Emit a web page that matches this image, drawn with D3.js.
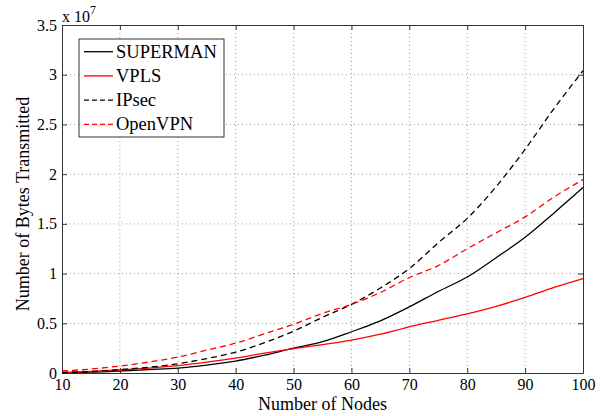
<!DOCTYPE html>
<html>
<head>
<meta charset="utf-8">
<script src="https://cdn.jsdelivr.net/npm/d3@7"></script>
<style>
  html, body { margin: 0; padding: 0; background: #fff; }
  svg { display: block; font-family: "Liberation Serif", "Times New Roman", serif; }
</style>
</head>
<body>
<svg id="chart" width="606" height="416"></svg>
<script>
// Data (values in units of 1e7 bytes)
const nodes     = [10, 15, 20, 25, 30, 35, 40, 45, 50, 55, 60, 65, 70, 75, 80, 85, 90, 95, 100];
const superman  = [0.003, 0.008, 0.02, 0.035, 0.05, 0.08, 0.12, 0.18, 0.25, 0.315, 0.415, 0.525, 0.665, 0.82, 0.965, 1.16, 1.365, 1.61, 1.865];
const vpls      = [0.005, 0.015, 0.03, 0.05, 0.075, 0.11, 0.15, 0.2, 0.245, 0.285, 0.33, 0.39, 0.465, 0.53, 0.595, 0.67, 0.76, 0.86, 0.95];
const ipsec     = [0.005, 0.015, 0.035, 0.058, 0.093, 0.145, 0.21, 0.305, 0.42, 0.56, 0.69, 0.855, 1.05, 1.31, 1.555, 1.875, 2.25, 2.66, 3.04];
const openvpn   = [0.02, 0.04, 0.07, 0.11, 0.16, 0.23, 0.3, 0.395, 0.49, 0.6, 0.69, 0.81, 0.96, 1.08, 1.25, 1.41, 1.57, 1.77, 1.945];

const xTicks = [10, 20, 30, 40, 50, 60, 70, 80, 90, 100];
const yTicks = [0, 0.5, 1, 1.5, 2, 2.5, 3, 3.5];
const yTickLabels = ["0", "0.5", "1", "1.5", "2", "2.5", "3", "3.5"];

const seriesNames  = ["SUPERMAN", "VPLS", "IPsec", "OpenVPN"];
const seriesValues = [superman, vpls, ipsec, openvpn];
const seriesColors = ["#000000", "#ff0000", "#000000", "#ff0000"];
const seriesDashed = [false, false, true, true];

const svg = d3.select("#chart");
const L = 62, R = 583, T = 25, B = 373;

const x = d3.scaleLinear().domain([10, 100]).range([L, R]);
const y = d3.scaleLinear().domain([0, 3.5]).range([B, T]);

// grid
const grid = svg.append("g");
xTicks.forEach(t => {
  if (t === 10 || t === 100) return;
  grid.append("line").attr("x1", x(t)).attr("x2", x(t)).attr("y1", T).attr("y2", B)
    .attr("stroke", "#888").attr("stroke-width", 0.8).attr("stroke-dasharray", "1,3");
});
yTicks.forEach(t => {
  if (t === 0 || t === 3.5) return;
  grid.append("line").attr("x1", L).attr("x2", R).attr("y1", y(t)).attr("y2", y(t))
    .attr("stroke", "#888").attr("stroke-width", 0.8).attr("stroke-dasharray", "1,3");
});

// axes (MATLAB box style, inward ticks)
const xAxisB = d3.axisBottom(x).tickValues(xTicks).tickSizeInner(-5).tickSizeOuter(0).tickPadding(6);
const xAxisT = d3.axisTop(x).tickValues(xTicks).tickSizeInner(-5).tickSizeOuter(0).tickFormat("");
const yAxisL = d3.axisLeft(y).tickValues(yTicks).tickSizeInner(-5).tickSizeOuter(0).tickPadding(5)
  .tickFormat((d, i) => yTickLabels[i]);
const yAxisR = d3.axisRight(y).tickValues(yTicks).tickSizeInner(-5).tickSizeOuter(0).tickFormat("");

function styleAxis(g) {
  g.selectAll("path").attr("stroke", "#333").attr("stroke-width", 1);
  g.selectAll("line").attr("stroke", "#333").attr("stroke-width", 1);
  g.selectAll("text").attr("fill", "#000").attr("font-size", 16)
    .attr("font-family", "Liberation Serif, Times New Roman, serif");
}
svg.append("g").attr("transform", `translate(0,${B})`).call(xAxisB).call(styleAxis);
svg.append("g").attr("transform", `translate(0,${T})`).call(xAxisT).call(styleAxis);
svg.append("g").attr("transform", `translate(${L},0)`).call(yAxisL).call(styleAxis);
svg.append("g").attr("transform", `translate(${R},0)`).call(yAxisR).call(styleAxis);

// lines
const line = d3.line().x((d, i) => x(nodes[i])).y(d => y(d)).curve(d3.curveMonotoneX);
const plot = svg.append("g");
seriesValues.forEach((vals, k) => {
  plot.append("path").datum(vals).attr("d", line)
    .attr("fill", "none").attr("stroke", seriesColors[k]).attr("stroke-width", 1.3)
    .attr("stroke-dasharray", seriesDashed[k] ? "6,4" : null);
});

// exponent label
const ex = svg.append("text").attr("x", 62).attr("y", 22).attr("font-size", 16).attr("fill", "#000");
ex.append("tspan").text("x 10");
ex.append("tspan").attr("dy", -8).attr("font-size", 12).text("7");

// axis labels
svg.append("text").attr("x", (L + R) / 2).attr("y", 410).attr("text-anchor", "middle")
  .attr("font-size", 18).attr("fill", "#000").text("Number of Nodes");
svg.append("text").attr("transform", "translate(29,204) rotate(-90)").attr("text-anchor", "middle")
  .attr("font-size", 18).attr("fill", "#000").text("Number of Bytes Transmitted");

// legend
const lg = svg.append("g");
lg.append("rect").attr("x", 79).attr("y", 39).attr("width", 145).attr("height", 98)
  .attr("fill", "#fff").attr("stroke", "#333").attr("stroke-width", 1);
seriesNames.forEach((name, k) => {
  const cy = 51.7 + k * 24.2;
  lg.append("line").attr("x1", 84).attr("x2", 113).attr("y1", cy).attr("y2", cy)
    .attr("stroke", seriesColors[k]).attr("stroke-width", 1.3)
    .attr("stroke-dasharray", seriesDashed[k] ? "5,3" : null);
  lg.append("text").attr("x", 116).attr("y", cy + 6).attr("font-size", 18.5).attr("fill", "#000").text(name);
});
</script>
</body>
</html>
